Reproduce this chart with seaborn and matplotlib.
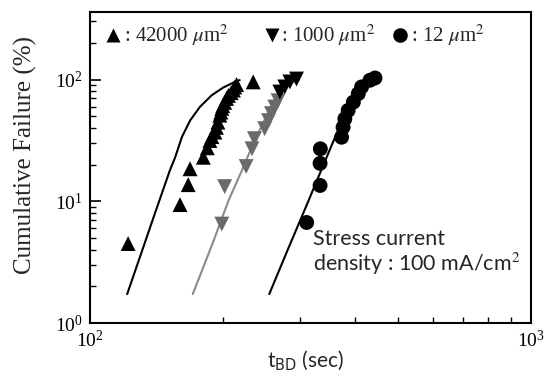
import numpy as np
import pandas as pd
import matplotlib
matplotlib.use("Agg")
import matplotlib.pyplot as plt
import matplotlib.ticker as mticker
import seaborn as sns

# ---- data (t_BD in sec, cumulative failure in %) ----
# 42000 um^2 (triangle up)
up_t = [122, 160, 167, 168.6, 180.7, 184.5, 187, 189, 192, 193.5, 195, 197, 198,
        199, 200, 202, 204, 206, 209, 211.5, 213, 215, 234.5]
up_f = [4.5, 9.4, 13.7, 18.5, 23, 27.5, 31.6, 34, 37, 40.5, 44.7, 51, 54,
        58, 61, 65, 70, 74, 78, 82, 87, 91, 95.7]
up_fit_t = [121.4, 131, 140.4, 151.7, 156, 161.5, 168.6, 177.4, 188.8, 200.5,
            213, 218.5]
up_fit_f = [1.73, 3.85, 8.0, 17.9, 23, 33.6, 46, 59.5, 74.3, 86, 95.6, 99]

# 1000 um^2 (triangle down)
dn_t = [199, 202, 226, 233, 236, 249, 254, 258, 262.5, 267, 269.5, 276.5, 284, 294]
dn_f = [6.5, 13.2, 19.3, 27, 32.7, 39.5, 46, 52.5, 59.5, 67, 79, 87, 95.6, 101]
dn_fit_t = [171, 190.5, 206, 221, 234.5, 249.5, 260.5, 269.5, 283, 298]
dn_fit_f = [1.73, 4.7, 10.1, 17.9, 29.7, 47.6, 65, 79, 92, 100]

# 12 um^2 (circle)
ci_t = [310, 332.5, 332.5, 333, 372, 375, 378.5, 385, 395.7, 406, 413, 431.5, 443]
ci_f = [6.7, 13.5, 20.5, 27, 33.6, 40.6, 47.6, 55.8, 65.3, 76.7, 87, 98.7, 103]
ci_fit_t = [255, 280, 310, 353, 382]
ci_fit_f = [1.73, 3.9, 9.3, 28.7, 56]

legend_labels = [": 42000 $\\mu$m$^2$", ": 1000 $\\mu$m$^2$", ": 12 $\\mu$m$^2$"]

sns.set_theme(style="ticks")
plt.rcParams["font.family"] = ["Liberation Serif", "DejaVu Serif"]
plt.rcParams["mathtext.fontset"] = "stix"

fig = plt.figure(figsize=(5.49, 3.81), dpi=100)
ax = fig.add_axes([0.164, 0.152, 0.803, 0.817])

# fitted curves
sns.lineplot(x=up_fit_t, y=up_fit_f, ax=ax, color="black", lw=1.5, sort=False)
sns.lineplot(x=dn_fit_t, y=dn_fit_f, ax=ax, color="#8a8a8a", lw=1.5, sort=False)
sns.lineplot(x=ci_fit_t, y=ci_fit_f, ax=ax, color="black", lw=1.5, sort=False)

# measured points
sns.scatterplot(x=up_t, y=up_f, ax=ax, marker="^", color="black", s=115,
                edgecolor="none", zorder=3)
sns.scatterplot(x=dn_t[:10], y=dn_f[:10], ax=ax, marker="v", color="#6a6a6a",
                s=115, edgecolor="none", zorder=3)
sns.scatterplot(x=dn_t[10:], y=dn_f[10:], ax=ax, marker="v", color="black",
                s=115, edgecolor="none", zorder=3)
sns.scatterplot(x=ci_t, y=ci_f, ax=ax, marker="o", color="black", s=115,
                edgecolor="none", zorder=3)

ax.set_xscale("log")
ax.set_yscale("log")
ax.set_xlim(100, 1000)
ax.set_ylim(1, 360)

ax.xaxis.set_major_locator(mticker.FixedLocator([100, 1000]))
ax.yaxis.set_major_locator(mticker.FixedLocator([1, 10, 100]))
ax.xaxis.set_major_formatter(mticker.LogFormatterSciNotation())
ax.yaxis.set_major_formatter(mticker.LogFormatterSciNotation())
ax.xaxis.set_minor_locator(mticker.LogLocator(base=10, subs=np.arange(2, 10)))
ax.yaxis.set_minor_locator(mticker.LogLocator(base=10, subs=np.arange(2, 10)))
ax.xaxis.set_minor_formatter(mticker.NullFormatter())
ax.yaxis.set_minor_formatter(mticker.NullFormatter())

ax.tick_params(which="both", direction="in", top=False, right=False,
               labelsize=14, pad=5, colors="black")
ax.tick_params(which="major", length=8, width=1.2)
ax.tick_params(which="minor", length=4.5, width=1.0)
for sp in ax.spines.values():
    sp.set_linewidth(1.5)
    sp.set_color("black")

ax.set_ylabel("Cumulative Failure (%)", fontsize=18)
ax.yaxis.set_label_coords(-0.12, 0.54)
ax.set_xlabel("t$_{\\rm BD}$ (sec)", fontsize=15, family="Lato",
              math_fontfamily="dejavusans")
ax.xaxis.set_label_coords(0.49, -0.084)

# legend row drawn by hand at the top of the axes
leg_x = [0.053, 0.413, 0.703]
txt_x = [0.076, 0.433, 0.728]
for mk, mx, tx, lab in zip(["^", "v", "o"], leg_x, txt_x, legend_labels):
    ax.plot([mx], [0.925], marker=mk, color="black", ms=10.5, mec="none",
            transform=ax.transAxes, clip_on=False)
    ax.text(tx, 0.925, lab, transform=ax.transAxes, fontsize=15,
            ha="left", va="center")

ax.text(0.506, 0.225, "Stress current\ndensity : 100 mA/cm$^2$",
        transform=ax.transAxes, fontsize=15.5, family="Lato",
        ha="left", va="center", linespacing=1.1)

plt.savefig("out.png", dpi=100)
